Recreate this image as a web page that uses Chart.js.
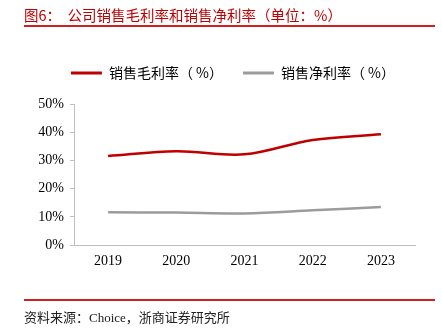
<!DOCTYPE html>
<html>
<head>
<meta charset="utf-8">
<script src="https://cdn.jsdelivr.net/npm/chart.js@4/dist/chart.umd.min.js"></script>
<style>
  html, body { margin: 0; padding: 0; background: #fff; }
  #wrap { position: relative; width: 442px; height: 330px; overflow: hidden; }
  #chart { position: absolute; left: 0; top: 0; }
  .title {
    position: absolute; left: 24px; top: 4px;
    font: 14.5px "Noto Sans CJK SC", sans-serif; color: #c00000;
    white-space: nowrap;
  }
  .rule { position: absolute; left: 24px; width: 411px; height: 2px; background: #d02020; }
  .source {
    position: absolute; left: 24px; top: 307px;
    font: 13px "Liberation Serif", "Noto Sans CJK SC", serif; color: #222;
    white-space: nowrap;
  }
</style>
</head>
<body>
<div id="wrap">
  <canvas id="chart" width="442" height="330"></canvas>
  <div class="title">图6：&nbsp;&nbsp;公司销售毛利率和销售净利率（单位：%）</div>
  <div class="rule" style="top:25px"></div>
  <div class="rule" style="top:299px"></div>
  <div class="source">资料来源：Choice，浙商证券研究所</div>
</div>
<script>
'use strict'

const years = ['2019', '2020', '2021', '2022', '2023']
const grossMargin = [31.6, 33.3, 32.2, 37.3, 39.3]
const netMargin = [11.6, 11.5, 11.2, 12.3, 13.5]
const yTicks = [0, 10, 20, 30, 40, 50]

const serif = '"Liberation Serif", "Times New Roman", serif'
const cjk = '"Noto Sans CJK SC", sans-serif'

const ctx = document.querySelector('#chart').getContext('2d')

const data = {
    labels: years,
    datasets: [{
        label: '销售毛利率（ %）',
        data: grossMargin,
        borderColor: '#c00000',
        backgroundColor: '#c00000',
        borderWidth: 2.5,
        pointRadius: 0,
        tension: 0.35
    }, {
        label: '销售净利率（ %）',
        data: netMargin,
        borderColor: '#9c9c9c',
        backgroundColor: '#9c9c9c',
        borderWidth: 2.5,
        pointRadius: 0,
        tension: 0.35
    }]
}

// legend lines without the stroked border
const legendLabels = chart =>
    Chart.defaults.plugins.legend.labels.generateLabels(chart)
        .map(item => ({ ...item, lineWidth: 0 }))

const config = {
    type: 'line',
    data: data,
    options: {
        responsive: false,
        animation: false,
        layout: { padding: { top: 46, right: 27, bottom: 52, left: 0 } },
        plugins: {
            tooltip: { enabled: false },
            legend: {
                position: 'top',
                align: 'end',
                labels: {
                    boxWidth: 31,
                    boxHeight: 3,
                    padding: 20,
                    color: '#000',
                    font: { family: cjk, size: 14 },
                    generateLabels: legendLabels
                }
            },
            // empty subtitle used as a gap between legend and plot
            subtitle: {
                display: true,
                text: '',
                weight: 500,
                font: { size: 1 },
                padding: { top: 0, bottom: 13 }
            }
        },
        scales: {
            x: {
                offset: true,
                grid: { display: true, drawOnChartArea: false, drawTicks: false, color: '#bfbfbf' },
                border: { color: '#bfbfbf', width: 1 },
                ticks: { color: '#000', padding: 8, font: { family: serif, size: 14 } },
                afterFit: scale => { scale.height = 33 }
            },
            y: {
                min: 0,
                max: 50,
                afterBuildTicks: scale => { scale.ticks = yTicks.map(v => ({ value: v })) },
                grid: { display: true, drawOnChartArea: false, drawTicks: true, tickLength: 4, color: '#bfbfbf' },
                border: { color: '#bfbfbf', width: 1 },
                ticks: {
                    color: '#000',
                    padding: 6,
                    font: { family: serif, size: 14 },
                    callback: v => v + '%'
                },
                afterFit: scale => { scale.width = 74 }
            }
        }
    }
}

const chart = new Chart(ctx, config)
</script>
</body>
</html>
